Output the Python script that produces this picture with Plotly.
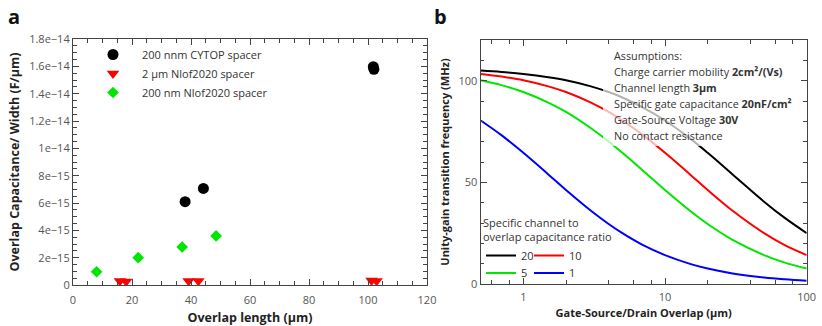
import math
import plotly.graph_objects as go

# ---------------- Panel a data ----------------
cytop_x = [38.0, 44.2, 101.8, 102.0]
cytop_y = [6.10e-15, 7.07e-15, 1.597e-14, 1.578e-14]

nlof2um_x = [15.9, 18.0, 39.2, 42.5, 101.2, 102.9]
nlof2um_y = [3.0e-16, 2.6e-16, 3.0e-16, 3.0e-16, 3.3e-16, 3.0e-16]

nlof200_x = [8.0, 22.1, 37.0, 48.5]
nlof200_y = [9.7e-16, 2.0e-15, 2.78e-15, 3.59e-15]

a_yticks = [0, 2e-15, 4e-15, 6e-15, 8e-15, 1e-14, 1.2e-14, 1.4e-14, 1.6e-14, 1.8e-14]
a_yticktext = ["0", "2e\u221215", "4e\u221215", "6e\u221215", "8e\u221215", "1e\u221214",
               "1.2e\u221214", "1.4e\u221214", "1.6e\u221214", "1.8e\u221214"]
a_xticks = [0, 20, 40, 60, 80, 100, 120]

# ---------------- Panel b data ----------------
overlap_um = [0.5, 0.7, 1, 1.5, 2, 3, 4, 5, 7, 10, 15, 20, 30, 50, 70, 100]
ratio_20 = [105.0, 104.3, 103.3, 101.7, 100.2, 97.2, 94.4, 91.7, 86.8, 80.4, 71.6, 64.5, 53.9, 40.5, 32.5, 25.0]
ratio_10 = [103.3, 102.0, 100.2, 97.2, 94.4, 89.2, 84.6, 80.4, 73.2, 64.5, 53.9, 46.2, 36.0, 25.0, 19.1, 14.2]
ratio_5 = [100.2, 97.8, 94.4, 89.2, 84.6, 76.6, 70.1, 64.5, 55.7, 46.2, 36.0, 29.5, 21.7, 14.2, 10.5, 7.6]
ratio_1 = [80.4, 73.2, 64.5, 53.9, 46.2, 36.0, 29.5, 25.0, 19.1, 14.2, 9.9, 7.6, 5.2, 3.2, 2.3, 1.6]

b_xticks = [1, 10, 100]
b_xticktext = ["1", "10", "100"]
b_xminor = [0.6, 0.8, 2, 4, 6, 8, 20, 40, 60, 80]
b_yticks = [0, 50, 100]

assumptions = [
    "Assumptions:",
    "Charge carrier mobility <b>2cm\u00b2/(Vs)</b>",
    "Channel length <b>3\u00b5m</b>",
    "Specific gate capacitance <b>20nF/cm\u00b2</b>",
    "Gate-Source Voltage <b>30V</b>",
    "No contact resistance",
]

FONT = "Open Sans"
AX = "#444444"
TICKC = "#555555"
TXT = "#333333"
W, H = 822, 326

fig = go.Figure()

fig.add_trace(go.Scatter(x=cytop_x, y=cytop_y, mode="markers", name="200 nnm CYTOP spacer",
                         marker=dict(symbol="circle", size=11, color="black"),
                         xaxis="x", yaxis="y", legend="legend"))
fig.add_trace(go.Scatter(x=nlof2um_x, y=nlof2um_y, mode="markers", name="2 \u00b5m Nlof2020 spacer",
                         marker=dict(symbol="triangle-down", size=11, color="#ff0000"),
                         xaxis="x", yaxis="y", legend="legend"))
fig.add_trace(go.Scatter(x=nlof200_x, y=nlof200_y, mode="markers", name="200 nm Nlof2020 spacer",
                         marker=dict(symbol="diamond", size=9, color="#00e600"),
                         xaxis="x", yaxis="y", legend="legend"))

for name, vals, color, lg in [("20", ratio_20, "#000000", "legend2"),
                              ("10", ratio_10, "#ff0000", "legend2"),
                              ("5", ratio_5, "#00e600", "legend3"),
                              ("1", ratio_1, "#0000ff", "legend3")]:
    fig.add_trace(go.Scatter(x=overlap_um, y=vals, mode="lines", name=name,
                             line=dict(color=color, width=2, shape="spline"),
                             xaxis="x2", yaxis="y2", legend=lg))

common_axis = dict(showline=True, linecolor=AX, linewidth=1.2, mirror="ticks", ticks="inside",
                   tickcolor=AX, ticklen=6, tickwidth=1, showgrid=False, zeroline=False,
                   automargin=False,
                   tickfont=dict(family=FONT, size=11, color=TICKC))

leg_font = dict(family=FONT, size=11, color=TXT)


def small_legend(x_px, y_px, **kw):
    return dict(x=x_px / W, y=1 - y_px / H, xanchor="left", yanchor="top", orientation="h",
                bgcolor="rgba(0,0,0,0)", font=leg_font, entrywidth=3, entrywidthmode="pixels",
                traceorder="normal", **kw)


fig.update_layout(
    width=W, height=H, margin=dict(l=0, r=0, t=0, b=0, autoexpand=False),
    paper_bgcolor="white", plot_bgcolor="white",
    font=dict(family=FONT, size=11, color=TXT),
    xaxis=dict(domain=[73 / W, 427 / W], range=[0, 120], anchor="y",
               tickmode="array", tickvals=a_xticks, ticklabelstandoff=5,
               minor=dict(dtick=5, ticks="inside", ticklen=3.5, tickcolor=AX),
               title=dict(text="<b>Overlap length (\u00b5m)</b>", font=dict(size=12.5, color="#222"), standoff=6),
               **common_axis),
    yaxis=dict(domain=[1 - 285 / H, 1 - 39 / H], range=[0, 1.8e-14], anchor="x",
               tickmode="array", tickvals=a_yticks, ticktext=a_yticktext,
               minor=dict(dtick=5e-16, ticks="inside", ticklen=3.5, tickcolor=AX),
               title=dict(text="<b>Overlap Capacitance/ Width (F/\u00b5m)</b>", font=dict(size=12.5, color="#222"), standoff=6),
               **common_axis),
    xaxis2=dict(domain=[480.7 / W, 806.7 / W], type="log", range=[math.log10(0.5), 2], anchor="y2",
                tickmode="array", tickvals=b_xticks, ticktext=b_xticktext, ticklabelstandoff=3,
                minor=dict(tickmode="array", tickvals=b_xminor, ticks="inside", ticklen=3.5, tickcolor=AX),
                title=dict(text="<b>Gate-Source/Drain Overlap (\u00b5m)</b>", font=dict(size=11, color="#222"), standoff=6),
                **common_axis),
    yaxis2=dict(domain=[1 - 284 / H, 1 - 40 / H], range=[0, 120], anchor="x2",
                tickmode="array", tickvals=b_yticks,
                minor=dict(dtick=10, ticks="inside", ticklen=3.5, tickcolor=AX),
                title=dict(text="<b>Unity-gain transition frequency (MHz)</b>", font=dict(size=11, color="#222"), standoff=6),
                **common_axis),
    legend=dict(x=84 / W, y=1 - 40 / H, xanchor="left", yanchor="top", bgcolor="rgba(0,0,0,0)",
                itemwidth=48, font=leg_font, traceorder="normal"),
    legend2=small_legend(481, 212.5, title=dict(text="Specific channel to<br>overlap capacitance ratio",
                                                side="top", font=leg_font)),
    legend3=small_legend(481, 258.5),
    showlegend=True,
)

# translucent box behind assumptions text
fig.add_shape(type="rect", xref="paper", yref="paper",
              x0=603 / W, x1=801 / W, y0=1 - 146 / H, y1=1 - 46 / H,
              fillcolor="rgba(255,255,255,0.7)", line=dict(width=0), layer="above")

line_y = [55.7, 71.3, 87.3, 103.3, 119.0, 135.0]
for txt, yc in zip(assumptions, line_y):
    fig.add_annotation(text=txt, xref="paper", yref="paper", x=612 / W, y=1 - yc / H,
                       xanchor="left", yanchor="middle", showarrow=False,
                       font=dict(family=FONT, size=10.8, color=TXT))

fig.add_annotation(text="<b>a</b>", xref="paper", yref="paper", x=14 / W, y=1 - 16 / H,
                   xanchor="center", yanchor="middle", showarrow=False,
                   font=dict(family=FONT, size=20, color="#111"))
fig.add_annotation(text="<b>b</b>", xref="paper", yref="paper", x=440 / W, y=1 - 16 / H,
                   xanchor="center", yanchor="middle", showarrow=False,
                   font=dict(family=FONT, size=20, color="#111"))

fig.write_html("out.html", config={"displayModeBar": False},
               post_script="document.body.style.margin='0';document.body.style.overflow='hidden';")
